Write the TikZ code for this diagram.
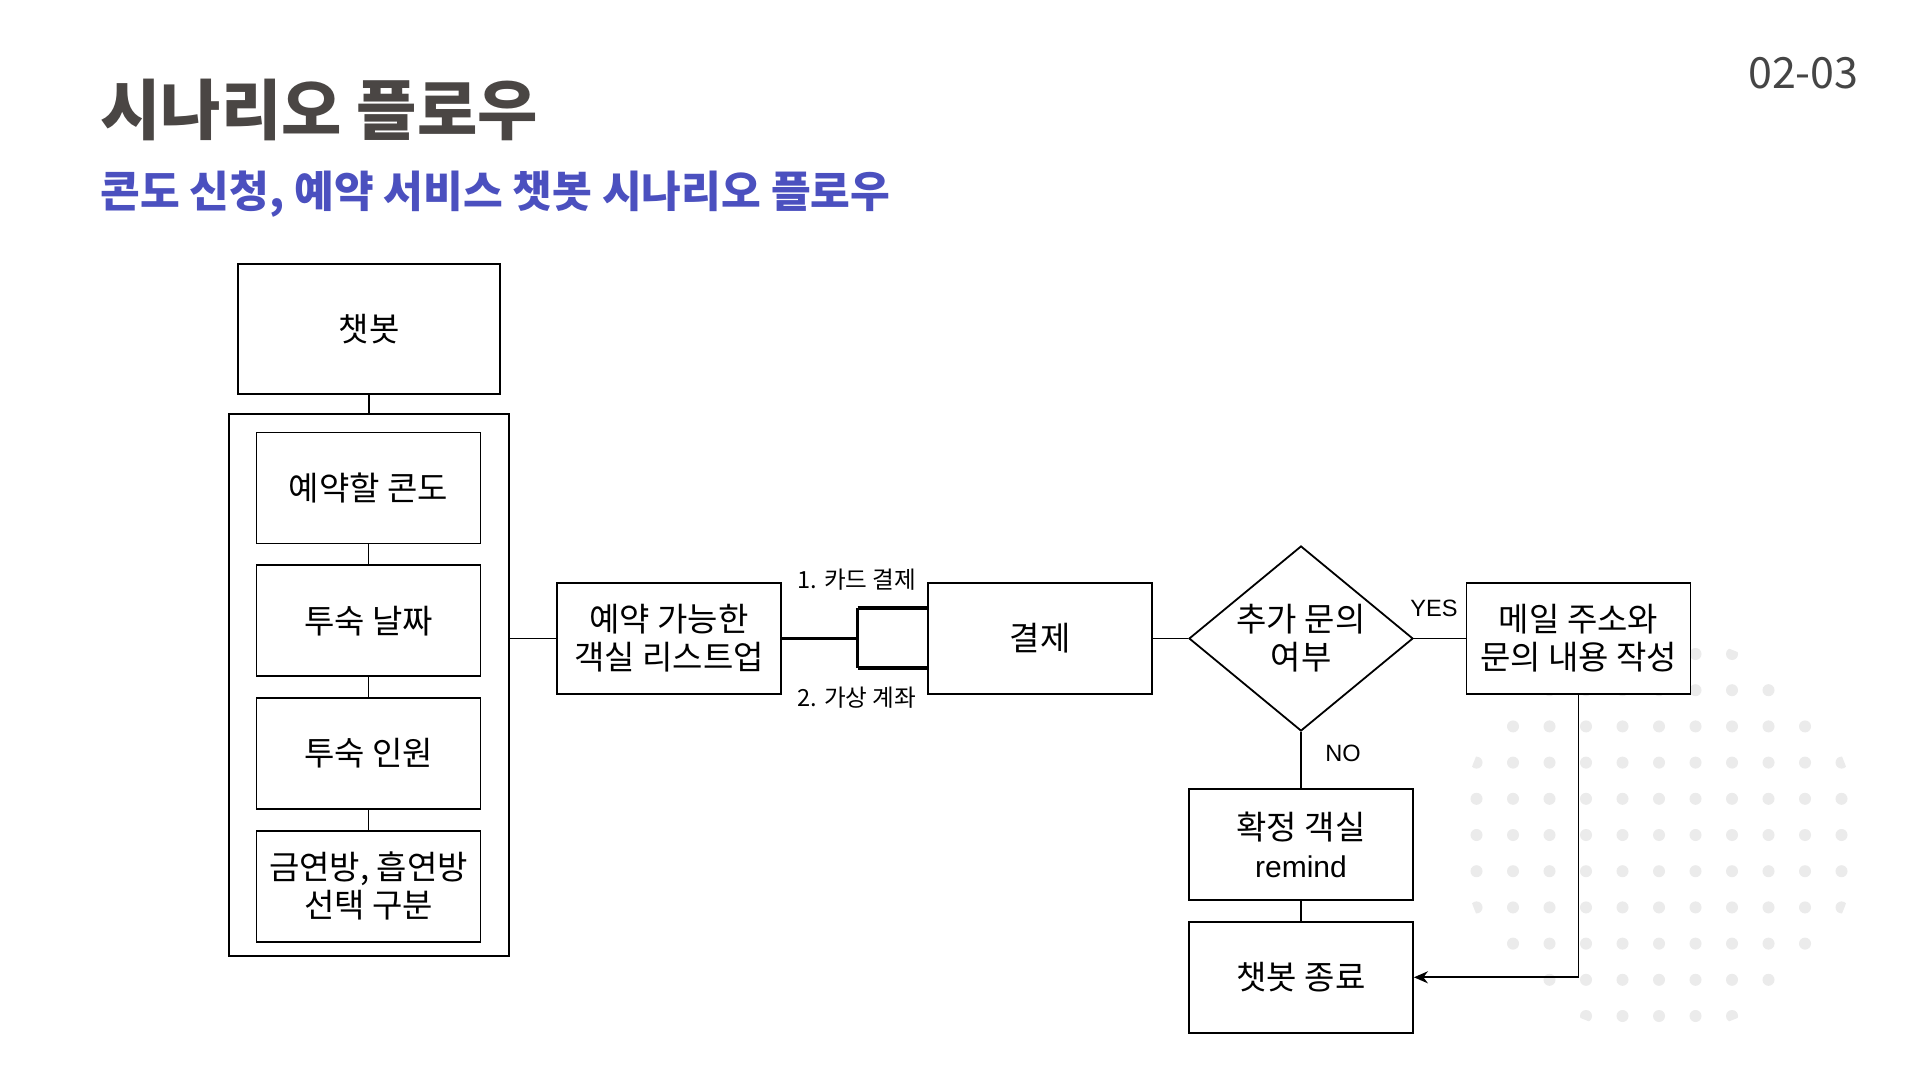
\documentclass[tikz,border=0pt]{standalone}
\usepackage{fontspec}
\setmainfont{Noto Sans CJK KR}
\newfontfamily\latfont{Liberation Sans}
\usetikzlibrary{arrows.meta,positioning,shapes.geometric}
\definecolor{ink}{HTML}{4A4644}
\definecolor{indigo}{HTML}{4B50BF}
\definecolor{pagenum}{HTML}{454545}
\definecolor{dotgray}{HTML}{EBEBEB}

\begin{document}
\begin{tikzpicture}[x=0.5pt, y=-0.5pt,
      node distance=10pt,
      box/.style={draw=black, line width=.9pt, fill=white,
        minimum width=112pt, minimum height=55.5pt, align=center,
        inner sep=2pt, font=\fontsize{16.5}{19}\selectfont},
      link/.style={draw=black, line width=.9pt},
      bold link/.style={draw=black, line width=1.7pt},
      tag/.style={inner sep=0pt, font=\fontsize{11.8}{14}\selectfont}
    ]
      \fill[white] (0,0) rectangle (1920,1080);
      \useasboundingbox (0,0) rectangle (1920,1080);
      % dotted backdrop
      \begin{scope}
        \clip (1659,835) circle (199);
        \foreach \i in {-5,...,5}
          \foreach \j in {-5,...,5}
            \fill[dotgray] (1659+36.5*\i, 835+36.2*\j) circle (6);
      \end{scope}
      % headings
      \node[anchor=west, inner sep=0pt, text=ink,
        font=\fontsize{32.8}{38}\selectfont\bfseries] (title) at (100,109.5) {시나리오 플로우};
      \node[anchor=west, inner sep=0pt, text=indigo,
        font=\fontsize{21.6}{26}\selectfont\bfseries] (subtitle) at (100,194.5) {콘도 신청, 예약 서비스 챗봇 시나리오 플로우};
      \node[anchor=east, inner sep=0pt, text=pagenum,
        font=\fontsize{21.5}{26}\selectfont] (page) at (1859,73) {02-03};
      % left column
      \node[box, minimum width=131pt, minimum height=65pt] (bot) at (369,329) {챗봇};
      \node[draw=black, line width=.9pt, minimum width=140pt, minimum height=271pt] (grp) at (369,685) {};
      \node[box] (condo) at (368.5,488) {예약할 콘도};
      \node[box, below=of condo] (date) {투숙 날짜};
      \node[box, below=of date] (guest) {투숙 인원};
      \node[box, below=of guest] (smoke) {금연방, 흡연방\\선택 구분};
      % main flow
      \node[box] (list) at (669,638.5) {예약 가능한\\객실 리스트업};
      \node[box] (pay) at (1040,638.5) {결제};
      \node[box, diamond, aspect=1.21, inner sep=0pt,
        minimum width=112pt, minimum height=92.5pt] (ask) at (1301,638.5) {추가 문의\\여부};
      \node[box] (mail) at (1578.5,638.5) {메일 주소와\\문의 내용 작성};
      \node[box] (remind) at (1301,844.5) {확정 객실\\{\latfont\fontsize{15}{19}\selectfont remind}};
      \node[box, below=of remind] (quit) {챗봇 종료};
      \coordinate (fork) at (857.5,638.5);
      \coordinate (card) at (857.5,608);
      \coordinate (acct) at (857.5,668);
      \node[tag] (cardlbl) at (857,580) {1. 카드 결제};
      \node[tag] (acctlbl) at (857,697.5) {2. 가상 계좌};
      \node[tag] (yes) at (1434,608.5) {\latfont YES};
      \node[tag] (no) at (1343,753) {\latfont NO};
      \draw[link] (bot) -- (grp);
      \draw[link] (condo) -- (date);
      \draw[link] (date) -- (guest);
      \draw[link] (guest) -- (smoke);
      \draw[link] (grp.east |- list.west) -- (list.west);
      \draw[bold link] (list.east) -- (fork);
      \draw[bold link] (card) -- (acct);
      \draw[bold link] (card) -- (card -| pay.west);
      \draw[bold link] (acct) -- (acct -| pay.west);
      \draw[link] (pay) -- (ask);
      \draw[link] (ask) -- (mail);
      \draw[link] (ask) -- (remind);
      \draw[link] (remind) -- (quit);
      \draw[link, -{Stealth[length=7pt, width=6pt]}] (mail.south) -- (mail.south |- quit.east) -- (quit.east);
    \end{tikzpicture}
\end{document}
